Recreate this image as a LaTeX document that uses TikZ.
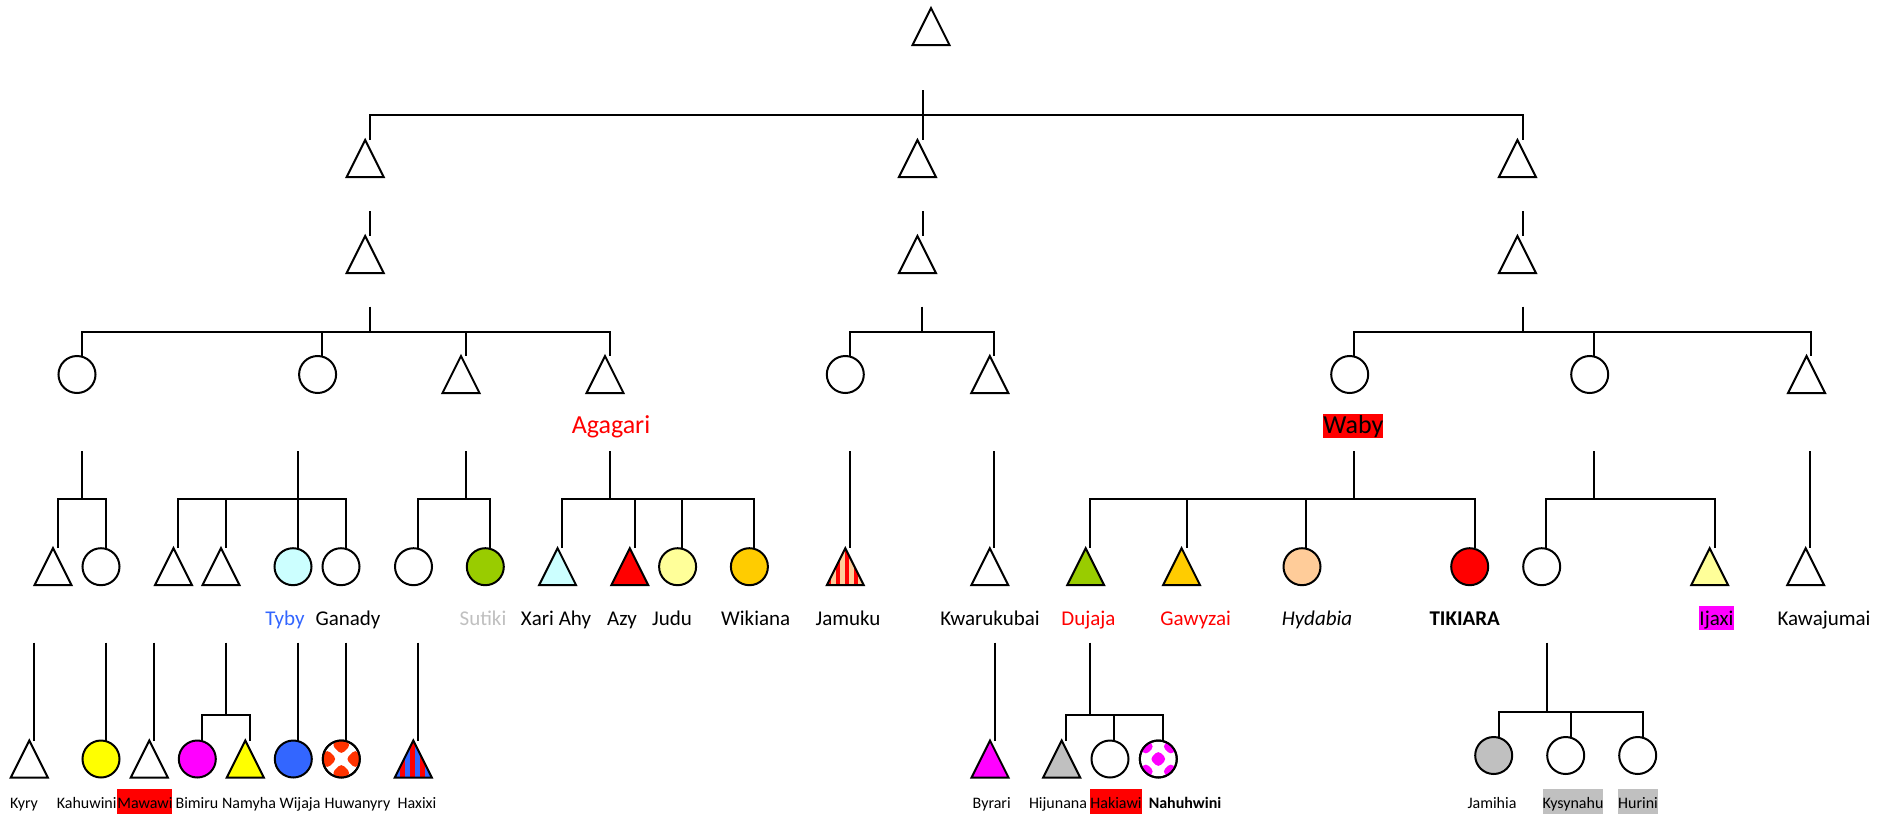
\documentclass[tikz,border=0pt]{standalone}
\usepackage{fontspec}
\setmainfont{Carlito}
\definecolor{cred}{HTML}{FF0000}
\definecolor{cmag}{HTML}{FF00FF}
\definecolor{cyel}{HTML}{FFFF00}
\definecolor{cpaleyel}{HTML}{FFFF99}
\definecolor{ccyan}{HTML}{CCFFFF}
\definecolor{cgreen}{HTML}{99CC00}
\definecolor{cgold}{HTML}{FFCC00}
\definecolor{cpeach}{HTML}{FFCC99}
\definecolor{cblue}{HTML}{3366FF}
\definecolor{cgray}{HTML}{C0C0C0}
\definecolor{corange}{HTML}{FF3300}
% triangle outline drawn over an invisible square node
\newcommand\trishape[2]{\draw[shp, fill=#2] (#1.north) -- (#1.south east) -- (#1.south west) -- cycle;}
\newcommand\tripath[1]{(#1.north) -- (#1.south east) -- (#1.south west) -- cycle}
\begin{document}
\begin{tikzpicture}[x=0.5pt,y=-0.5pt,
  conn/.style={line width=1pt, line join=miter},
  shp/.style={line width=1pt, line join=miter},
  person/.style={inner sep=0pt, outer sep=0pt, minimum size=18.5pt},
  tri/.style={person, rectangle},
  circ/.style={person, circle, draw, line width=1pt, fill=#1},
  circ/.default=white,
  lbl/.style={anchor=base, inner sep=0pt, font=\fontsize{10.5pt}{12pt}\selectfont},
  sml/.style={anchor=base, inner sep=0pt, font=\fontsize{8pt}{10pt}\selectfont},
  big/.style={anchor=base, inner sep=0pt, font=\fontsize{13pt}{15pt}\selectfont},
  hl/.style={fill=#1, inner sep=0pt, text height=0.952em, text depth=0.269em}]

\fill[white] (0,0) rectangle (1887,814);
\useasboundingbox (0,0) rectangle (1887,814);

% ---------- generation 0 to 2 ----------
\node[tri] (n0) at (931,26.5) {};
\node[tri] (a1) at (365.2,158.5) {};
\node[tri] (b1) at (917.4,158.5) {};
\node[tri] (c1) at (1517.4,158.5) {};
\node[tri] (a2) at (365.2,254.5) {};
\node[tri] (b2) at (917.4,254.5) {};
\node[tri] (c2) at (1517.4,254.5) {};
\foreach \n in {n0,a1,b1,c1,a2,b2,c2} {\trishape{\n}{white}}

\coordinate (r-s) at (922.8,90);
\coordinate (r-l) at (370,115);
\coordinate (r-r) at (1522.8,115);
\draw[conn] (r-s) -- (b1.north -| r-s);
\draw[conn] (a1.north -| r-l) -- (r-l) -- (r-r) -- (c1.north -| r-r);

\coordinate (a-s) at (370,211);
\coordinate (b-s) at (922.8,211);
\coordinate (c-s) at (1522.8,211);
\draw[conn] (a-s) -- (a2.north -| a-s);
\draw[conn] (b-s) -- (b2.north -| b-s);
\draw[conn] (c-s) -- (c2.north -| c-s);

% ---------- generation 3 ----------
\node[circ] (la) at (77,374.5) {};
\node[circ] (lb) at (317.6,374.5) {};
\node[tri]  (lc) at (461,374.5) {};
\node[tri]  (ld) at (605,374.5) {};
\node[circ] (ma) at (845.3,374.5) {};
\node[tri]  (mb) at (989.8,374.5) {};
\node[circ] (ra) at (1349.7,374.5) {};
\node[circ] (rb) at (1589.7,374.5) {};
\node[tri]  (rc) at (1806.5,374.5) {};
\foreach \n in {lc,ld,mb,rc} {\trishape{\n}{white}}

\coordinate (l3-s) at (370,306.7);
\coordinate (l3-j) at (370,331.7);
\coordinate (l3-1) at (81.6,331.7);
\coordinate (l3-2) at (322,331.7);
\coordinate (l3-3) at (466,331.7);
\coordinate (l3-4) at (610.2,331.7);
\draw[conn] (l3-s) -- (l3-j);
\draw[conn] (la.north -| l3-1) -- (l3-1) -- (l3-4) -- (ld.north -| l3-4);
\draw[conn] (l3-2) -- (lb.north -| l3-2);
\draw[conn] (l3-3) -- (lc.north -| l3-3);

\coordinate (m3-s) at (922.4,306.7);
\coordinate (m3-j) at (922.4,331.7);
\coordinate (m3-1) at (850.2,331.7);
\coordinate (m3-2) at (994.3,331.7);
\draw[conn] (m3-s) -- (m3-j);
\draw[conn] (ma.north -| m3-1) -- (m3-1) -- (m3-2) -- (mb.north -| m3-2);

\coordinate (r3-s) at (1522.7,306.7);
\coordinate (r3-j) at (1522.7,331.7);
\coordinate (r3-1) at (1354.3,331.7);
\coordinate (r3-2) at (1594.4,331.7);
\coordinate (r3-3) at (1810.8,331.7);
\draw[conn] (r3-s) -- (r3-j);
\draw[conn] (ra.north -| r3-1) -- (r3-1) -- (r3-3) -- (rc.north -| r3-3);
\draw[conn] (r3-2) -- (rb.north -| r3-2);

\node[big, text=cred] (agagari-l) at (611,433) {Agagari};
\node[big, hl=cred] (waby-l) at (1353.4,433) {Waby};

% ---------- generation 4 ----------
\node[tri] (la1) at (53,566.7) {};
\node[circ] (la2) at (101,566.7) {};
\node[tri] (lb1) at (173.5,566.7) {};
\node[tri] (lb2) at (221,566.7) {};
\node[circ=ccyan] (tyby) at (293,566.7) {};
\node[circ] (ganady) at (341,566.7) {};
\node[circ] (lc1) at (413.5,566.7) {};
\node[circ=cgreen] (sutiki) at (485.3,566.7) {};
\node[tri] (xari) at (557.6,566.7) {};
\node[tri] (azy) at (629.8,566.7) {};
\node[circ=cpaleyel] (judu) at (677.6,566.7) {};
\node[circ=cgold] (wikiana) at (749.4,566.7) {};
\node[tri] (jamuku) at (845.3,566.7) {};
\node[tri] (kwarukubai) at (989.8,566.7) {};
\node[tri] (dujaja) at (1085.7,566.7) {};
\node[tri] (gawyzai) at (1181.6,566.7) {};
\node[circ=cpeach] (hydabia) at (1302,566.7) {};
\node[circ=cred] (tikiara) at (1469.7,566.7) {};
\node[circ] (rb1) at (1541.7,566.7) {};
\node[tri] (ijaxi) at (1709.7,566.7) {};
\node[tri] (kawajumai) at (1805.7,566.7) {};
\trishape{la1}{white}
\trishape{lb1}{white}
\trishape{lb2}{white}
\trishape{xari}{ccyan}
\trishape{azy}{cred}
\trishape{kwarukubai}{white}
\trishape{dujaja}{cgreen}
\trishape{gawyzai}{cgold}
\trishape{ijaxi}{cpaleyel}
\trishape{kawajumai}{white}
% striped triangle
\begin{scope}
  \clip \tripath{jamuku};
  \fill[cpeach] (jamuku.south west) rectangle (jamuku.north east);
  \foreach \i in {0,2,...,8} {\fill[cred] ([xshift=\i*2.25pt]jamuku.south west) rectangle ++(4.5,-37);}
\end{scope}
\draw[shp] \tripath{jamuku};

% connectors to generation 4
\coordinate (A-s) at (81.6,451);
\coordinate (A-j) at (81.6,499.3);
\coordinate (A-1) at (58,499.3);
\coordinate (A-2) at (106,499.3);
\draw[conn] (A-s) -- (A-j);
\draw[conn] (la1.north -| A-1) -- (A-1) -- (A-2) -- (la2.north -| A-2);

\coordinate (B-s) at (298,451);
\coordinate (B-1) at (178,499.3);
\coordinate (B-2) at (225.7,499.3);
\coordinate (B-4) at (346,499.3);
\draw[conn] (B-s) -- (tyby.north -| B-s);
\draw[conn] (lb1.north -| B-1) -- (B-1) -- (B-4) -- (ganady.north -| B-4);
\draw[conn] (B-2) -- (lb2.north -| B-2);

\coordinate (C-s) at (466,451);
\coordinate (C-j) at (466,499.3);
\coordinate (C-1) at (418.4,499.3);
\coordinate (C-2) at (490.2,499.3);
\draw[conn] (C-s) -- (C-j);
\draw[conn] (lc1.north -| C-1) -- (C-1) -- (C-2) -- (sutiki.north -| C-2);

\coordinate (D-s) at (610.2,451);
\coordinate (D-j) at (610.2,499.3);
\coordinate (D-1) at (562.4,499.3);
\coordinate (D-2) at (634.7,499.3);
\coordinate (D-3) at (682.4,499.3);
\coordinate (D-4) at (754.3,499.3);
\draw[conn] (D-s) -- (D-j);
\draw[conn] (xari.north -| D-1) -- (D-1) -- (D-4) -- (wikiana.north -| D-4);
\draw[conn] (D-2) -- (azy.north -| D-2);
\draw[conn] (D-3) -- (judu.north -| D-3);

\coordinate (E-s) at (850.2,451);
\draw[conn] (E-s) -- (jamuku.north -| E-s);
\coordinate (F-s) at (994.3,451);
\draw[conn] (F-s) -- (kwarukubai.north -| F-s);

\coordinate (G-s) at (1354.3,451);
\coordinate (G-j) at (1354.3,499.3);
\coordinate (G-1) at (1090.2,499.3);
\coordinate (G-2) at (1186.5,499.3);
\coordinate (G-3) at (1306.3,499.3);
\coordinate (G-4) at (1474.7,499.3);
\draw[conn] (G-s) -- (G-j);
\draw[conn] (dujaja.north -| G-1) -- (G-1) -- (G-4) -- (tikiara.north -| G-4);
\draw[conn] (G-2) -- (gawyzai.north -| G-2);
\draw[conn] (G-3) -- (hydabia.north -| G-3);

\coordinate (H-s) at (1594.4,451);
\coordinate (H-j) at (1594.4,499.3);
\coordinate (H-1) at (1546.4,499.3);
\coordinate (H-2) at (1714.8,499.3);
\draw[conn] (H-s) -- (H-j);
\draw[conn] (rb1.north -| H-1) -- (H-1) -- (H-2) -- (ijaxi.north -| H-2);

\coordinate (I-s) at (1810.4,451);
\draw[conn] (I-s) -- (kawajumai.north -| I-s);

% generation 4 names
\node[lbl, text=cblue] (tyby-l) at (285,625) {Tyby};
\node[lbl] (ganady-l) at (348,625) {Ganady};
\node[lbl, text=cgray] (sutiki-l) at (483,625) {Sutiki};
\node[lbl] (xari-l) at (556,625) {Xari Ahy};
\node[lbl] (azy-l) at (622,625) {Azy};
\node[lbl] (judu-l) at (672,625) {Judu};
\node[lbl] (wikiana-l) at (755.7,625) {Wikiana};
\node[lbl] (jamuku-l) at (848,625) {Jamuku};
\node[lbl] (kwarukubai-l) at (990,625) {Kwarukubai};
\node[lbl, text=cred] (dujaja-l) at (1088.5,625) {Dujaja};
\node[lbl, text=cred] (gawyzai-l) at (1195.7,625) {Gawyzai};
\node[lbl] (hydabia-l) at (1317,625) {\itshape Hydabia};
\node[lbl] (tikiara-l) at (1464.7,625) {\bfseries TIKIARA};
\node[lbl, hl=cmag] (ijaxi-l) at (1716.5,625) {Ijaxi};
\node[lbl] (kawajumai-l) at (1824,625) {Kawajumai};

% ---------- generation 5 ----------
\node[tri] (kyry) at (29.3,759) {};
\node[circ=cyel] (kahuwini) at (101,759) {};
\node[tri] (mawawi) at (149.3,759) {};
\node[circ=cmag] (bimiru) at (197.3,759) {};
\node[tri] (namyha) at (245.3,759) {};
\node[circ=cblue] (wijaja) at (293.3,759) {};
\node[circ] (huwanyry) at (341.3,759) {};
\node[tri] (haxixi) at (413.3,759) {};
\node[tri] (byrari) at (990,759) {};
\node[tri] (hijunana) at (1061.7,759) {};
\node[circ] (hakiawi) at (1110,759) {};
\node[circ] (nahuhwini) at (1158.3,759) {};
\node[circ=cgray] (jamihia) at (1493.7,755.5) {};
\node[circ] (kysynahu) at (1565.7,755.5) {};
\node[circ] (hurini) at (1637.7,755.5) {};
\trishape{kyry}{white}
\trishape{mawawi}{white}
\trishape{namyha}{cyel}
\trishape{byrari}{cmag}
\trishape{hijunana}{cgray}
% striped triangle
\begin{scope}
  \clip \tripath{haxixi};
  \fill[cred] (haxixi.south west) rectangle (haxixi.north east);
  \foreach \i in {0,2,...,8} {\fill[cblue] ([xshift=\i*2.5pt]haxixi.south west) rectangle ++(5,-37);}
\end{scope}
\draw[shp] \tripath{haxixi};
% chequered circles
\begin{scope}
  \clip (huwanyry.center) circle[radius=9.25pt];
  \foreach \m/\n in {0/-1,0/1,-1/0,1/0} {
    \fill[corange, rounded corners=2pt] ([shift={(\m*14,\n*14)}]huwanyry.center) +(0,-9.5) -- +(9.5,0) -- +(0,9.5) -- +(-9.5,0) -- cycle;}
\end{scope}
\draw[shp] (huwanyry.center) circle[radius=9.25pt];
\begin{scope}
  \clip (nahuhwini.center) circle[radius=9.25pt];
  \foreach \m/\n in {0/0,-1/-1,1/-1,-1/1,1/1} {
    \fill[cmag, rounded corners=2pt] ([shift={(\m*12.5,\n*12.5)}]nahuhwini.center) +(0,-8.5) -- +(8.5,0) -- +(0,8.5) -- +(-8.5,0) -- cycle;}
\end{scope}
\draw[shp] (nahuhwini.center) circle[radius=9.25pt];

% connectors to generation 5
\coordinate (kyry-s) at (34,642.7);
\draw[conn] (kyry-s) -- (kyry.north -| kyry-s);
\coordinate (kahuwini-s) at (106,642.7);
\draw[conn] (kahuwini-s) -- (kahuwini.north -| kahuwini-s);
\coordinate (mawawi-s) at (154,642.7);
\draw[conn] (mawawi-s) -- (mawawi.north -| mawawi-s);
\coordinate (bn-s) at (226,642.7);
\coordinate (bn-j) at (226,715);
\coordinate (bn-1) at (201.7,715);
\coordinate (bn-2) at (250,715);
\draw[conn] (bn-s) -- (bn-j);
\draw[conn] (bimiru.north -| bn-1) -- (bn-1) -- (bn-2) -- (namyha.north -| bn-2);
\coordinate (wijaja-s) at (298,642.7);
\draw[conn] (wijaja-s) -- (wijaja.north -| wijaja-s);
\coordinate (huwanyry-s) at (346,642.7);
\draw[conn] (huwanyry-s) -- (huwanyry.north -| huwanyry-s);
\coordinate (haxixi-s) at (418.3,642.7);
\draw[conn] (haxixi-s) -- (haxixi.north -| haxixi-s);
\coordinate (byrari-s) at (995,642.7);
\draw[conn] (byrari-s) -- (byrari.north -| byrari-s);
\coordinate (hj-s) at (1090.3,642.7);
\coordinate (hj-j) at (1090.3,715);
\coordinate (hj-1) at (1066,715);
\coordinate (hj-2) at (1114.3,715);
\coordinate (hj-3) at (1162.7,715);
\draw[conn] (hj-s) -- (hj-j);
\draw[conn] (hijunana.north -| hj-1) -- (hj-1) -- (hj-3) -- (nahuhwini.north -| hj-3);
\draw[conn] (hj-2) -- (hakiawi.north -| hj-2);
\coordinate (jm-s) at (1546.7,642.7);
\coordinate (jm-j) at (1546.7,712);
\coordinate (jm-1) at (1498.7,712);
\coordinate (jm-2) at (1570.7,712);
\coordinate (jm-3) at (1642.7,712);
\draw[conn] (jm-s) -- (jm-j);
\draw[conn] (jamihia.north -| jm-1) -- (jm-1) -- (jm-3) -- (hurini.north -| jm-3);
\draw[conn] (jm-2) -- (kysynahu.north -| jm-2);

% generation 5 names
\node[sml] (kyry-l) at (24,808.5) {Kyry};
\node[sml] (kahuwini-l) at (86.7,808.5) {Kahuwini};
\node[sml, hl=cred] (mawawi-l) at (144.9,808.5) {Mawawi};
\node[sml] (bimiru-l) at (197,808.5) {Bimiru};
\node[sml] (namyha-l) at (249,808.5) {Namyha};
\node[sml] (wijaja-l) at (300,808.5) {Wijaja};
\node[sml] (huwanyry-l) at (357.5,808.5) {Huwanyry};
\node[sml] (haxixi-l) at (417,808.5) {Haxixi};
\node[sml] (byrari-l) at (991.7,808.5) {Byrari};
\node[sml] (hijunana-l) at (1058,808.5) {Hijunana};
\node[sml, hl=cred] (hakiawi-l) at (1116,808.5) {Hakiawi};
\node[sml] (nahuhwini-l) at (1185,808.5) {\bfseries Nahuhwini};
\node[sml] (jamihia-l) at (1492,808.5) {Jamihia};
\node[sml, hl=cgray] (kysynahu-l) at (1573,808.5) {Kysynahu};
\node[sml, hl=cgray] (hurini-l) at (1638,808.5) {Hurini};
\end{tikzpicture}
\end{document}
